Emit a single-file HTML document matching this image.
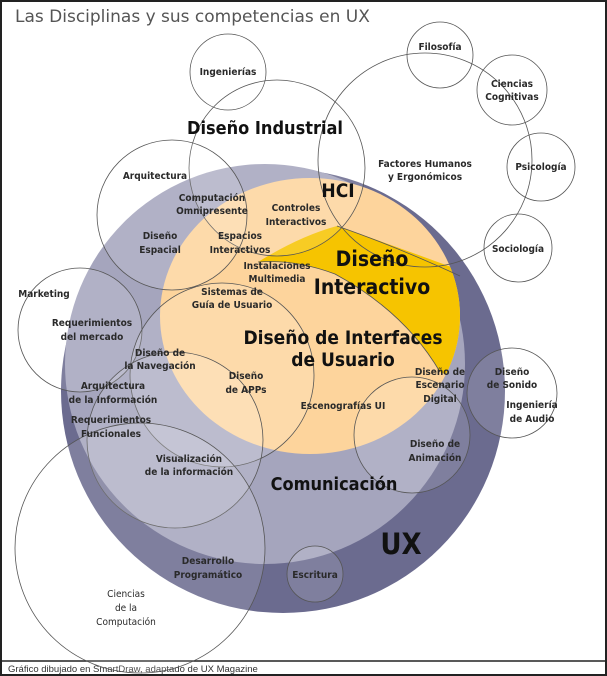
<!DOCTYPE html>
<html><head><meta charset="utf-8"><style>
html,body{margin:0;padding:0;background:#fff;}
svg{display:block;}
text{font-family:"DejaVu Sans Condensed","DejaVu Sans",sans-serif;font-weight:bold;fill:#2a2a2a;text-anchor:middle;}
.s{font-size:10px;}
</style></head><body>
<svg width="607" height="676" viewBox="0 0 607 676" xmlns="http://www.w3.org/2000/svg">
<defs>
<clipPath id="org"><ellipse cx="310" cy="316" rx="150" ry="138"/></clipPath>
</defs>
<rect x="1" y="1" width="605" height="674" fill="#fff" stroke="#222" stroke-width="2"/>
<line x1="0" y1="661" x2="607" y2="661" stroke="#222" stroke-width="1.5"/>
<text x="15" y="22" style="font-family:'DejaVu Sans',sans-serif;font-weight:normal;font-size:17px;fill:#555;text-anchor:start">Las Disciplinas y sus competencias en UX</text>
<text x="8" y="672" style="font-family:'Liberation Sans',sans-serif;font-weight:normal;font-size:9.5px;fill:#333;text-anchor:start">Gráfico dibujado en SmartDraw, adaptado de UX Magazine</text>

<circle cx="283" cy="391" r="222" fill="#6b6b8f"/>
<circle cx="265" cy="364" r="200" fill="#a5a5bd"/>
<ellipse cx="310" cy="316" rx="150" ry="138" fill="#fdd49c"/>
<g clip-path="url(#org)">
<path d="M258,262 Q300,236 337,226 Q395,246 470,274 L470,385 L440,372 Q405,312 335,274 Q295,259 258,262 Z" fill="#f6c400"/>
</g>
<g fill="#fff" fill-opacity="0.14" stroke="#555" stroke-width="0.8">
<circle cx="277" cy="168" r="88"/>
<circle cx="172" cy="215" r="75"/>
<circle cx="80" cy="330" r="62"/>
<circle cx="222" cy="375" r="92"/>
<circle cx="175" cy="440" r="88"/>
<circle cx="140" cy="548" r="125"/>
<circle cx="412" cy="435" r="58"/>
<circle cx="315" cy="574" r="28"/>
<circle cx="512" cy="393" r="45"/>
</g>
<g fill="none" stroke="#555" stroke-width="0.8">
<circle cx="425" cy="160" r="107"/>
<path d="M337,226 Q395,246 460,276" />
<path d="M258,262 Q295,259 335,274 Q405,312 440,372" />
<circle cx="228" cy="72" r="38"/>
<circle cx="440" cy="55" r="33"/>
<circle cx="512" cy="90" r="35"/>
<circle cx="541" cy="167" r="34"/>
<circle cx="518" cy="248" r="34"/>
</g>

<text class="s" x="228" y="75">Ingenierías</text>
<text class="s" x="440" y="50">Filosofía</text>
<text class="s" x="512" y="87">Ciencias</text>
<text class="s" x="512" y="100">Cognitivas</text>
<text class="s" x="541" y="170">Psicología</text>
<text class="s" x="518" y="252">Sociología</text>
<text x="265" y="134" style="font-size:18px;fill:#111">Diseño Industrial</text>
<text class="s" x="155" y="179">Arquitectura</text>
<text class="s" x="425" y="167">Factores Humanos</text>
<text class="s" x="425" y="180">y Ergonómicos</text>
<text x="338" y="197" style="font-size:19px;fill:#111">HCI</text>
<text class="s" x="212" y="201">Computación</text>
<text class="s" x="212" y="214">Omnipresente</text>
<text class="s" x="296" y="211">Controles</text>
<text class="s" x="296" y="225">Interactivos</text>
<text class="s" x="160" y="239">Diseño</text>
<text class="s" x="160" y="253">Espacial</text>
<text class="s" x="240" y="239">Espacios</text>
<text class="s" x="240" y="253">Interactivos</text>
<text x="372" y="266" style="font-size:21px;fill:#111">Diseño</text>
<text x="372" y="294" style="font-size:21px;fill:#111">Interactivo</text>
<text class="s" x="277" y="269">Instalaciones</text>
<text class="s" x="277" y="282">Multimedia</text>
<text class="s" x="44" y="297">Marketing</text>
<text class="s" x="232" y="295">Sistemas de</text>
<text class="s" x="232" y="308">Guía de Usuario</text>
<text class="s" x="92" y="326">Requerimientos</text>
<text class="s" x="92" y="340">del mercado</text>
<text x="343" y="344" style="font-size:19px;fill:#111">Diseño de Interfaces</text>
<text x="343" y="366" style="font-size:19px;fill:#111">de Usuario</text>
<text class="s" x="160" y="356">Diseño de</text>
<text class="s" x="160" y="369">la Navegación</text>
<text class="s" x="246" y="379">Diseño</text>
<text class="s" x="246" y="393">de APPs</text>
<text class="s" x="113" y="389">Arquitectura</text>
<text class="s" x="113" y="403">de la Información</text>
<text class="s" x="343" y="409">Escenografías UI</text>
<text class="s" x="440" y="375">Diseño de</text>
<text class="s" x="440" y="388">Escenario</text>
<text class="s" x="440" y="402">Digital</text>
<text class="s" x="512" y="375">Diseño</text>
<text class="s" x="512" y="388">de Sonido</text>
<text class="s" x="532" y="408">Ingeniería</text>
<text class="s" x="532" y="422">de Audio</text>
<text class="s" x="111" y="423">Requerimientos</text>
<text class="s" x="111" y="437">Funcionales</text>
<text class="s" x="435" y="447">Diseño de</text>
<text class="s" x="435" y="461">Animación</text>
<text class="s" x="189" y="462">Visualización</text>
<text class="s" x="189" y="475">de la información</text>
<text x="334" y="490" style="font-size:18px;fill:#111">Comunicación</text>
<text x="401" y="554" style="font-size:29px;fill:#111">UX</text>
<text class="s" x="208" y="564">Desarrollo</text>
<text class="s" x="208" y="578">Programático</text>
<text class="s" x="315" y="578">Escritura</text>
<text class="s" x="126" y="597" style="font-weight:normal">Ciencias</text>
<text class="s" x="126" y="611" style="font-weight:normal">de la</text>
<text class="s" x="126" y="625" style="font-weight:normal">Computación</text>
</svg>
</body></html>
